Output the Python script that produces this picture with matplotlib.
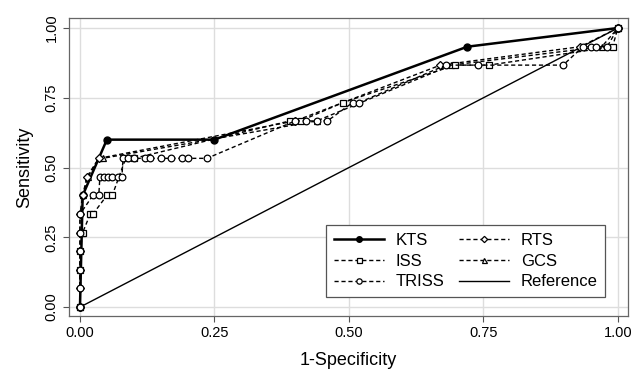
import matplotlib
matplotlib.use("Agg")
import matplotlib.pyplot as plt
import numpy as np

plt.rcParams['font.family'] = ['Liberation Sans', 'DejaVu Sans']

# ---- data ----
kts_x = [0, 0.005, 0.05, 0.25, 0.72, 1.0]
kts_y = [0, 0.4, 0.6, 0.6, 0.933, 1.0]

iss_x = [0, 0, 0, 0.005, 0.019, 0.024, 0.05, 0.06, 0.085, 0.10, 0.39, 0.41, 0.489, 0.697, 0.76, 0.99, 1.0]
iss_y = [0, 0.133, 0.2, 0.267, 0.333, 0.333, 0.4, 0.4, 0.533, 0.533, 0.667, 0.667, 0.733, 0.867, 0.867, 0.933, 1.0]

triss_x = [0, 0, 0, 0, 0, 0, 0.024, 0.035, 0.037, 0.045, 0.052, 0.06, 0.07, 0.078,
           0.08, 0.09, 0.10, 0.12, 0.13, 0.15, 0.17, 0.19, 0.20, 0.236,
           0.40, 0.42, 0.44, 0.46, 0.507, 0.519, 0.68, 0.74, 0.898,
           0.935, 0.95, 0.96, 0.98, 1.0]
triss_y = [0, 0.067, 0.133, 0.2, 0.267, 0.333, 0.4, 0.4, 0.467, 0.467, 0.467, 0.467, 0.467, 0.467,
           0.533, 0.533, 0.533, 0.533, 0.533, 0.533, 0.533, 0.533, 0.533, 0.533,
           0.667, 0.667, 0.667, 0.667, 0.733, 0.733, 0.867, 0.867, 0.867,
           0.933, 0.933, 0.933, 0.933, 1.0]

rts_x = [0, 0, 0, 0, 0, 0, 0.005, 0.013, 0.035, 0.40, 0.67, 0.93, 1.0]
rts_y = [0, 0.067, 0.133, 0.2, 0.267, 0.333, 0.4, 0.467, 0.533, 0.667, 0.867, 0.933, 1.0]

gcs_x = [0, 0.003, 0.005, 0.015, 0.035, 0.042, 0.44, 0.69, 0.97, 1.0]
gcs_y = [0, 0.267, 0.4, 0.467, 0.533, 0.533, 0.667, 0.867, 0.933, 1.0]

ref_x = [0, 1]
ref_y = [0, 1]

xticks = [0, 0.25, 0.5, 0.75, 1.0]
yticks = [0, 0.25, 0.5, 0.75, 1.0]

# ---- plot ----
fig = plt.figure(figsize=(6.33, 3.74), dpi=100)
ax = fig.add_axes([0.109, 0.155, 0.883, 0.797])

dash = (0, (3, 2))
mkw = dict(markerfacecolor='white', markeredgecolor='black', markeredgewidth=0.9, color='black')

ax.plot(ref_x, ref_y, color='black', lw=1.0, label='Reference', zorder=2)
ax.plot(kts_x, kts_y, linestyle='-', lw=1.8, marker='o', markersize=5, color='black',
        markerfacecolor='black', markeredgecolor='black', label='KTS', zorder=2.5)
ax.plot(gcs_x, gcs_y, linestyle=dash, lw=1.0, marker='^', markersize=4.5, label='GCS', zorder=3, **mkw)
ax.plot(rts_x, rts_y, linestyle=dash, lw=1.0, marker='D', markersize=4, label='RTS', zorder=3, **mkw)
ax.plot(iss_x, iss_y, linestyle=dash, lw=1.0, marker='s', markersize=4.5, label='ISS', zorder=3, **mkw)
ax.plot(triss_x, triss_y, linestyle=dash, lw=1.0, marker='o', markersize=4.8, label='TRISS', zorder=3, **mkw)

ax.set_xlim(-0.0204, 1.0186)
ax.set_ylim(-0.032, 1.036)
ax.set_xticks(xticks)
ax.set_yticks(yticks)
ax.set_xticklabels([f"{v:.2f}" for v in xticks], fontsize=10.5)
ax.set_yticklabels([f"{v:.2f}" for v in yticks], fontsize=10.5, rotation=90, va='center')
ax.grid(True, color='#dddddd', lw=1.0)
ax.set_axisbelow(True)
ax.tick_params(direction='out', length=4, color='#555555', width=0.8)
for s in ax.spines.values():
    s.set_color('#666666')
    s.set_linewidth(0.9)

ax.set_xlabel('1-Specificity', fontsize=13, labelpad=8)
ax.set_ylabel('Sensitivity', fontsize=13, labelpad=8)

handles, labels = ax.get_legend_handles_labels()
order = ['KTS', 'ISS', 'TRISS', 'RTS', 'GCS', 'Reference']
hmap = dict(zip(labels, handles))
leg = ax.legend([hmap[k] for k in order], order, ncol=2, loc='lower right',
                bbox_to_anchor=(0.959, 0.064), borderaxespad=0, fontsize=12, fancybox=False,
                framealpha=1, edgecolor='#555555', handlelength=3.0, markerscale=0.8,
                columnspacing=0.9, labelspacing=0.35, borderpad=0.45, handletextpad=0.7)
leg.get_frame().set_linewidth(0.9)

fig.savefig('out.png', dpi=100)
